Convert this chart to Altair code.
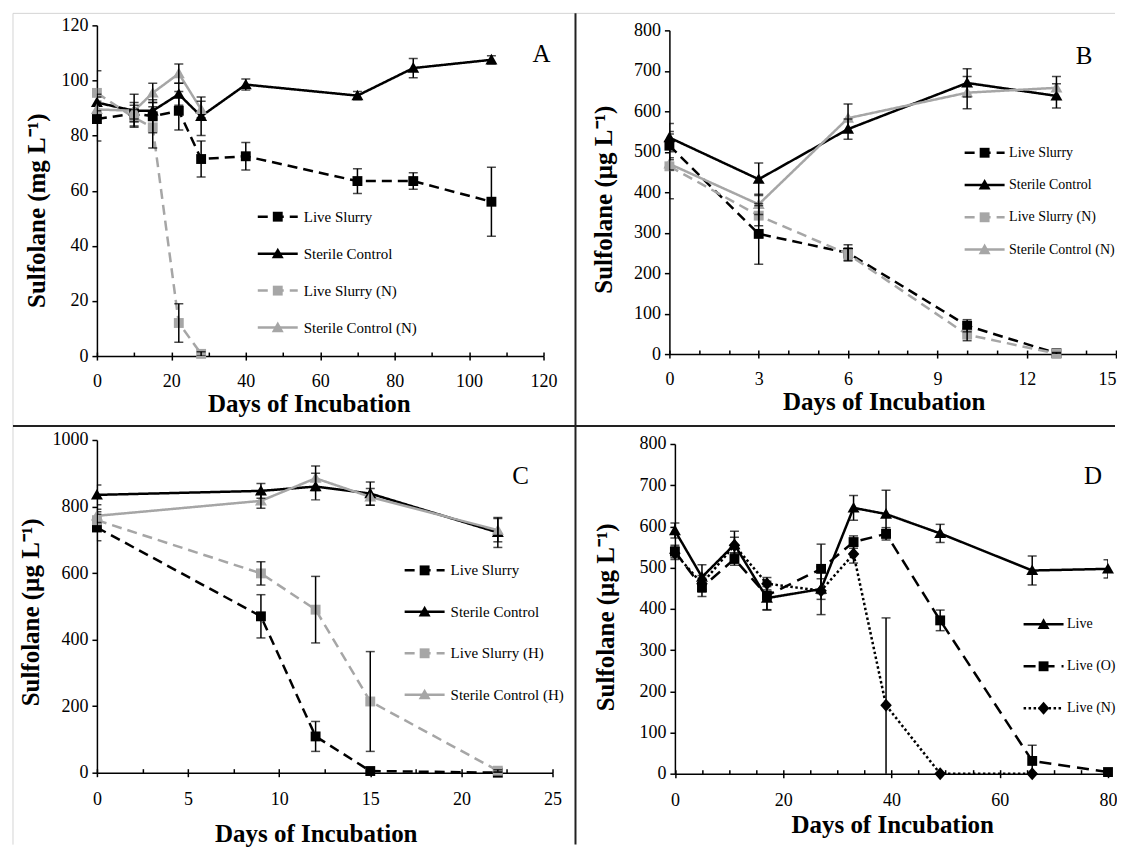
import altair as alt
import pandas as pd

BLACK = "#000000"
GRAY = "#a6a6a6"
FONT = "Liberation Serif"

# ---------------- Panel A (mg/L) ----------------
a_names = ["Live Slurry", "Sterile Control", "Live Slurry (N)", "Sterile Control (N)"]
a_days = [0, 10, 15, 22, 28, 40, 70, 85, 106]
a_live = [86, 88, 87, 89, 71.5, 72.5, 63.5, 63.5, 56]
a_live_err = [8, 3, 6, 7, 6.5, 5, 4.5, 3, 12.5]
a_sterile = [92, 89, 89, 95, 87, 98.5, 94.5, 104.5, 107.5]
a_sterile_err = [3, 3, 3, 4, 7, 2, 1.5, 3.5, 1.5]
a_days_n = [0, 10, 15, 22, 28]
a_live_n = [95.5, 86.5, 83, 12, 0.8]
a_live_n_err = [8, 3, 7.5, 7, 0.8]
a_sterile_n = [89.5, 89, 95.5, 102.5, 89.5]
a_sterile_n_err = [3, 6, 3.5, 3.5, 3]

# ---------------- Panel B (ug/L) ----------------
b_names = ["Live Slurry", "Sterile Control", "Live Slurry (N)", "Sterile Control (N)"]
b_days = [0, 3, 6, 10, 13]
b_live = [515, 297, 250, 70, 2]
b_live_err = [35, 75, 20, 15, 2]
b_sterile = [535, 432, 556, 670, 638]
b_sterile_err = [35, 40, 25, 35, 30]
b_live_n = [464, 342, 247, 48, 1]
b_live_n_err = [80, 25, 15, 15, 2]
b_sterile_n = [470, 370, 583, 646, 658]
b_sterile_n_err = [15, 25, 35, 40, 28]

# ---------------- Panel C (ug/L) ----------------
c_names = ["Live Slurry", "Sterile Control", "Live Slurry (H)", "Sterile Control (H)"]
c_days = [0, 9, 12, 15, 22]
c_live = [737, 470, 109, 5, 0]
c_live_err = [40, 65, 45, 3, 0]
c_sterile = [835, 847, 860, 839, 722]
c_sterile_err = [30, 22, 40, 35, 45]
c_live_h = [759, 599, 490, 214, 6]
c_live_h_err = [25, 35, 100, 150, 3]
c_sterile_h = [772, 817, 885, 829, 729]
c_sterile_h_err = [20, 22, 37, 25, 35]

# ---------------- Panel D (ug/L) ----------------
d_names = ["Live", "Live (O)", "Live (N)"]
d_days = [0, 5, 11, 17, 27, 33, 39, 49, 66, 80]
d_live = [590, 477, 556, 426, 448, 645, 630, 583, 493, 497]
d_live_err = [18, 30, 32, 28, 25, 30, 58, 22, 35, 22]
d_live_o = [539, 452, 521, 432, 497, 562, 582, 372, 31, 4]
d_live_o_err = [15, 22, 15, 35, 60, 15, 15, 25, 38, 2]
d_days_n = [0, 5, 11, 17, 27, 33, 39, 49, 66]
d_live_n = [535, 461, 554, 461, 444, 533, 166, 0, 0]
d_live_n_err = [15, 20, 20, 15, 58, 22, 212, 2, 2]

# marker paths (unit = half of sqrt(symbol size))
SQUARE = "M-0.43,-0.43H0.43V0.43H-0.43Z"
TRIANGLE = "M0,-0.52L0.52,0.4L-0.52,0.4Z"
DIAMOND = "M0,-0.57L0.5,0L0,0.57L-0.5,0Z"
LINE_SYMBOL = "M-2,0H2"
DASH = [10, 6]
SOLID = [1, 0]
DOT = [2.5, 2.5]
MARK_SIZE = 529      # sqrt = 23 -> same legend cell as the line legend (20 + stroke 2.5)
LINE_SYM_SIZE = 400


def table(parts):
    rows = []
    for name, days, vals, errs in parts:
        for d, v, e in zip(days, vals, errs):
            rows.append({"series": name, "day": d, "val": v, "err": e})
    return pd.DataFrame(rows)


one = alt.Data(values=[{}])


def letter_layer(letter, lx, ly):
    return alt.Chart(one).mark_text(font=FONT, fontSize=25, color=BLACK, align="center",
                                    baseline="middle").encode(
        x=alt.value(lx), y=alt.value(ly), text=alt.value(letter))


def panel(df, order, colors, dashes, shapes, xdom, ydom, xmajor, xminor, ymajor,
          width, height, ytitle, ytx, yty, xtx, xty, letter, lx, ly,
          lgx, lgy, label_offset, row_pad, lab_size,
          xrange=None, yrange=None, yoffset=0, xlabel_pad=12,
          flush_last=False, extra=None):
    xs_kw = dict(domain=xdom, nice=False, zero=False)
    if xrange:
        xs_kw["range"] = xrange
    ys_kw = dict(domain=ydom, nice=False)
    if yrange:
        ys_kw["range"] = yrange
    xs = alt.Scale(**xs_kw)
    ys = alt.Scale(**ys_kw)

    common = dict(orient="none", legendX=lgx, legendY=lgy, title=None,
                  direction="vertical", labelOffset=label_offset,
                  rowPadding=row_pad, labelFontSize=lab_size, padding=0,
                  labelFont=FONT, labelColor=BLACK)
    leg_line = alt.Legend(symbolType=LINE_SYMBOL, symbolSize=LINE_SYM_SIZE,
                          symbolStrokeWidth=2.5, **common)
    leg_mark = alt.Legend(symbolSize=MARK_SIZE, symbolStrokeWidth=0,
                          labelExpr="' '", **common)

    xaxis_kw = dict(values=xmajor, tickSize=4, labelPadding=xlabel_pad, title="Days of Incubation",
                    titleX=xtx, titleY=xty, titleAlign="center", titleBaseline="middle",
                    format="d", grid=False, labelFlush=False)
    if flush_last:
        xaxis_kw["labelAlign"] = {"condition": {"test": f"datum.value >= {xdom[1]}", "value": "right"},
                                  "value": "center"}
    xaxis = alt.Axis(**xaxis_kw)
    minor_axis = alt.Axis(orient="bottom", offset=-4, values=sorted(xmajor + xminor), tickSize=4,
                          labels=False, domain=False, title=None, grid=False)
    yaxis = alt.Axis(values=ymajor, tickSize=5, labelPadding=4, title=ytitle,
                     titleX=ytx, titleY=yty, titleAlign="center", titleBaseline="middle",
                     titleAngle=270, format="d", offset=yoffset, grid=False)

    base = alt.Chart(df)
    lines = base.mark_line(strokeWidth=2.5).encode(
        x=alt.X("day:Q", scale=xs, axis=xaxis),
        y=alt.Y("val:Q", scale=ys, axis=yaxis),
        color=alt.Color("series:N", scale=alt.Scale(domain=order, range=colors), legend=leg_line),
        strokeDash=alt.StrokeDash("series:N", scale=alt.Scale(domain=order, range=dashes), legend=leg_line),
    )
    points = base.mark_point(filled=True, size=MARK_SIZE, opacity=1).encode(
        x=alt.X("day:Q", scale=xs, axis=None),
        y=alt.Y("val:Q", scale=ys, axis=yaxis),
        color=alt.Color("series:N", scale=alt.Scale(domain=order, range=colors), legend=leg_mark),
        shape=alt.Shape("series:N", scale=alt.Scale(domain=order, range=shapes), legend=leg_mark),
    )
    err = base.transform_calculate(lo="datum.val - datum.err", hi="datum.val + datum.err")
    rules = err.mark_rule(color=BLACK, strokeWidth=1.5, clip=True).encode(
        x=alt.X("day:Q", scale=xs, axis=minor_axis),
        y=alt.Y("lo:Q", scale=ys, axis=yaxis),
        y2="hi:Q",
    )
    cap_lo = err.mark_tick(color=BLACK, thickness=1.5, size=9, orient="horizontal", clip=True).encode(
        x=alt.X("day:Q", scale=xs, axis=None), y=alt.Y("lo:Q", scale=ys, axis=yaxis))
    cap_hi = err.mark_tick(color=BLACK, thickness=1.5, size=9, orient="horizontal", clip=True).encode(
        x=alt.X("day:Q", scale=xs, axis=None), y=alt.Y("hi:Q", scale=ys, axis=yaxis))

    layers = [lines, points, rules, cap_lo, cap_hi, letter_layer(letter, lx, ly)]
    if extra:
        layers += extra
    ch = alt.layer(*layers).resolve_scale(
        color="independent", shape="independent", strokeDash="independent"
    ).resolve_axis(x="independent").properties(width=width, height=height)
    return ch


frame_layers = [
    alt.Chart(one).mark_rule(color="#d4d4d4", strokeWidth=1).encode(
        x=alt.value(-84), x2=alt.value(1019), y=alt.value(-12)),
    alt.Chart(one).mark_rule(color="#d4d4d4", strokeWidth=1).encode(
        x=alt.value(-84), y=alt.value(-12), y2=alt.value(820)),
    alt.Chart(one).mark_rule(color="#222222", strokeWidth=2).encode(
        x=alt.value(479), y=alt.value(-12), y2=alt.value(820)),
    alt.Chart(one).mark_rule(color="#222222", strokeWidth=2).encode(
        x=alt.value(-84), x2=alt.value(1019), y=alt.value(401)),
]

dfA = table([(a_names[0], a_days, a_live, a_live_err),
             (a_names[1], a_days, a_sterile, a_sterile_err),
             (a_names[2], a_days_n, a_live_n, a_live_n_err),
             (a_names[3], a_days_n, a_sterile_n, a_sterile_n_err)])
dfB = table([(b_names[0], b_days, b_live, b_live_err),
             (b_names[1], b_days, b_sterile, b_sterile_err),
             (b_names[2], b_days, b_live_n, b_live_n_err),
             (b_names[3], b_days, b_sterile_n, b_sterile_n_err)])
dfC = table([(c_names[0], c_days, c_live, c_live_err),
             (c_names[1], c_days, c_sterile, c_sterile_err),
             (c_names[2], c_days, c_live_h, c_live_h_err),
             (c_names[3], c_days, c_sterile_h, c_sterile_h_err)])
dfD = table([(d_names[0], d_days, d_live, d_live_err),
             (d_names[1], d_days, d_live_o, d_live_o_err),
             (d_names[2], d_days_n, d_live_n, d_live_n_err)])

four_colors = [BLACK, BLACK, GRAY, GRAY]
four_dashes = [DASH, SOLID, DASH, SOLID]
four_shapes = [SQUARE, TRIANGLE, SQUARE, TRIANGLE]

pA = panel(dfA, a_names, four_colors, four_dashes, four_shapes,
           [0, 120], [0, 120], list(range(0, 121, 20)), list(range(10, 120, 20)),
           list(range(0, 121, 20)), 447, 331, "Sulfolane (mg L⁻¹)", -60, 185, 212, 47,
           "A", 445, 29, 169.5, 180, 14.5, 17, 15, xlabel_pad=12, extra=frame_layers)
pB = panel(dfB, b_names, four_colors, four_dashes, four_shapes,
           [0, 15], [0, 800], list(range(0, 16, 3)), [1, 2, 4, 5, 7, 8, 10, 11, 13, 14],
           list(range(0, 801, 100)), 447, 329, "Sulfolane (µg L⁻¹)", -66, 174, 214.5, 47,
           "B", 415, 31, 304, 116, 13, 13.3, 14, yrange=[329, 5], xlabel_pad=12, flush_last=True)
pC = panel(dfC, c_names, four_colors, four_dashes, four_shapes,
           [0, 25], [0, 1000], list(range(0, 26, 5)), [2.5, 7.5, 12.5, 17.5, 22.5],
           list(range(0, 1001, 200)), 456, 333, "Sulfolane (µg L⁻¹)", -66, 172, 219, 61,
           "C", 424, 36, 316.5, 119, 14.5, 21.5, 15, xlabel_pad=14)
pD = panel(dfD, d_names, [BLACK, BLACK, BLACK], [SOLID, [12, 7], DOT], [TRIANGLE, SQUARE, DIAMOND],
           [0, 80], [0, 800], list(range(0, 81, 20)), [v for v in range(5, 80, 5) if v % 20],
           list(range(0, 801, 100)), 439, 334, "Sulfolane (µg L⁻¹)", -69.5, 177, 223, 51,
           "D", 424, 36, 363, 173, 12, 23, 14, xrange=[5.5, 439], yrange=[334, 4], yoffset=-5.5,
           xlabel_pad=14)

chart = alt.concat(pA, pB, pC, pD, columns=2, spacing={"row": 84, "column": 117},
                   bounds="flush", align="each").properties(
    padding={"left": 4, "top": 4, "right": 0, "bottom": 0}
).configure_view(stroke=None).configure_axis(
    domainColor=BLACK, domainWidth=1.5, tickColor=BLACK, tickWidth=1.5,
    labelFont=FONT, labelFontSize=18, labelColor=BLACK,
    titleFont=FONT, titleFontSize=25, titleFontWeight="bold", titleColor=BLACK, grid=False
).configure_legend(labelFont=FONT, labelColor=BLACK)

chart.save("out.html", embed_options={"renderer": "svg", "actions": False})
